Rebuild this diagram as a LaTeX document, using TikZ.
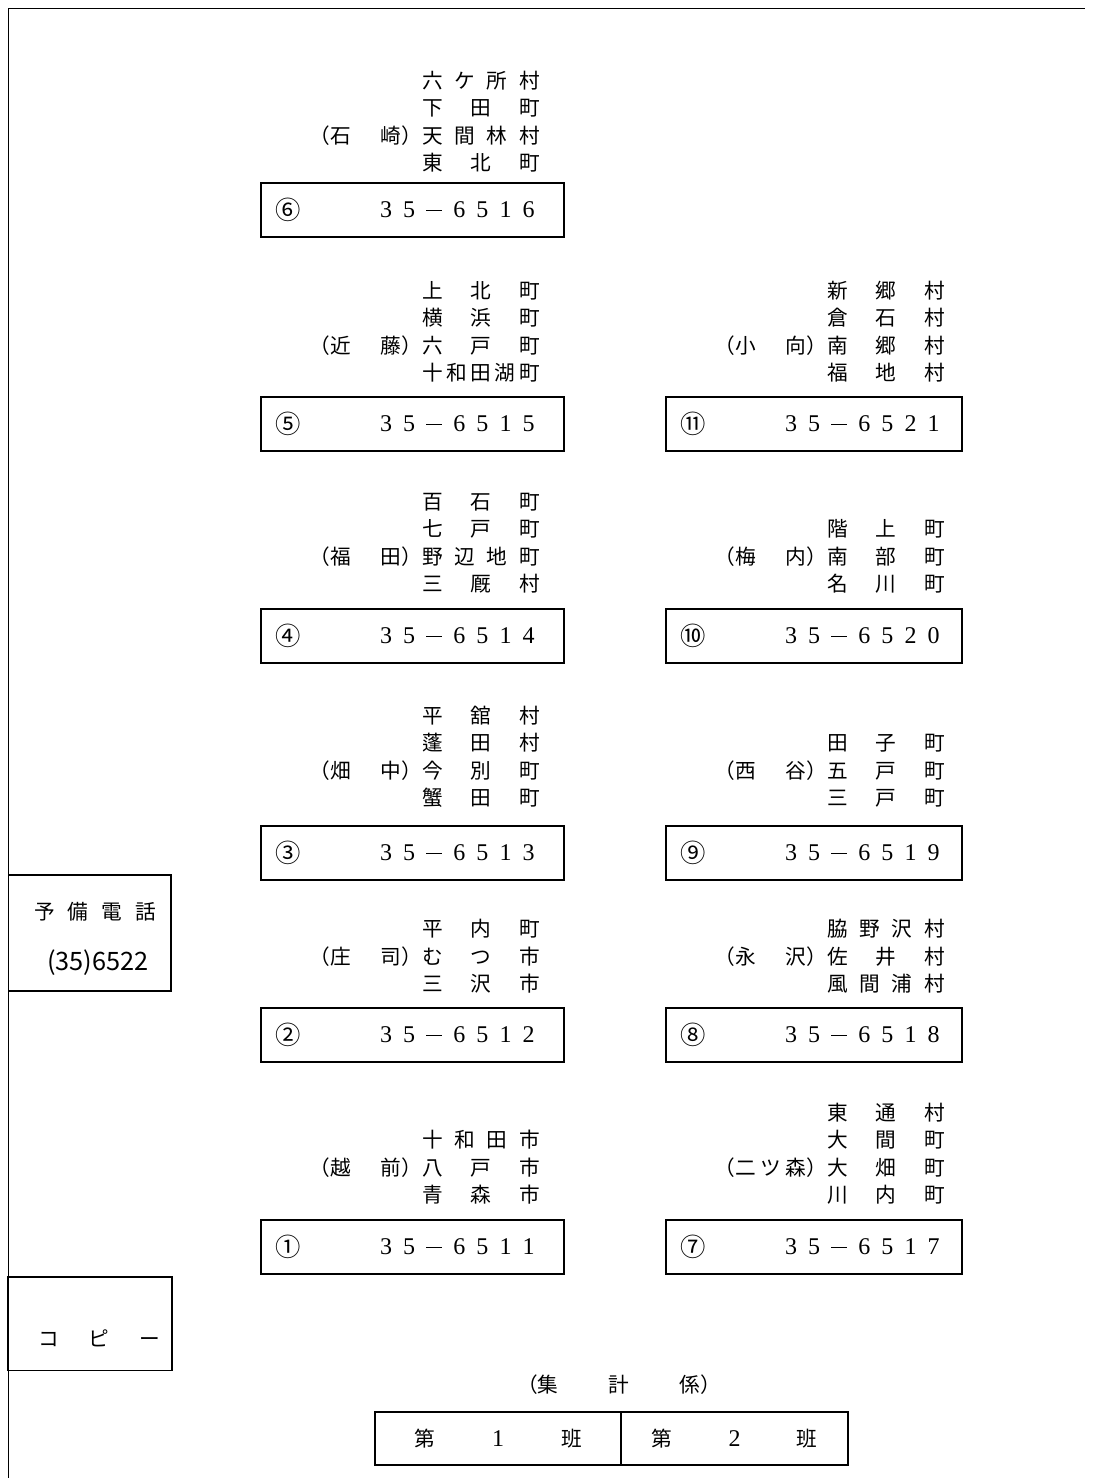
\documentclass[tikz,border=0pt]{standalone}
\usepackage{fontspec}
\usepackage{tikz}
\usetikzlibrary{positioning}
\newfontfamily\jfont{Noto Sans CJK JP}
\newfontfamily\zfont{Liberation Serif}
\newcommand{\ortname}[1]{\makebox[88pt][s]{#1}}
\newcommand{\bezname}[1]{\makebox[84pt][s]{#1}}
\newcommand{\telnr}[4]{\makebox[116pt][s]{3\hfill 5\hfill \rule[5pt]{12pt}{1.1pt}\hfill #1\hfill #2\hfill #3\hfill #4}}

\begin{document}
\begin{tikzpicture}[x=0.75pt, y=-0.75pt, node distance=5pt,
    font=\jfont\fontsize{15.5}{20}\selectfont,
    kasten/.style={draw, line width=1pt, inner sep=0pt, minimum height=40.5pt},
    ort/.style={anchor=east, inner sep=0pt, text height=12pt, text depth=3pt},
    bez/.style={inner sep=0pt, text height=12pt, text depth=3pt},
    kreis/.style={inner sep=0pt, font=\jfont\fontsize{19}{19}\selectfont},
    nummer/.style={anchor=east, inner sep=0pt, font=\zfont\fontsize{18}{18}\selectfont}]
        \useasboundingbox (0,0) rectangle (1093,1478);
        % Rahmen
        \draw[line width=0.6pt] (8,1478) -- (8,8) -- (1085,8);
        % Telefonkaesten
        \foreach \n/\k/\x/\y/\w/\a/\b/\c/\d in {6/⑥/412.5/210/227.25/6/5/1/6,
                5/⑤/412.5/424/227.25/6/5/1/5, 11/⑪/814/424/222/6/5/2/1,
                4/④/412.5/636/227.25/6/5/1/4, 10/⑩/814/636/222/6/5/2/0,
                3/③/412.5/853/227.25/6/5/1/3, 9/⑨/814/853/222/6/5/1/9,
                2/②/412.5/1035/227.25/6/5/1/2, 8/⑧/814/1035/222/6/5/1/8,
                1/①/412.5/1247/227.25/6/5/1/1, 7/⑦/814/1247/222/6/5/1/7}
        {
            \node[kasten, minimum width=\w pt] (b\n) at (\x,\y) {};
            \node[kreis] (k\n) at ([xshift=21pt]b\n.west) {\k};
            \node[nummer] (t\n) at ([xshift=206pt]b\n.west) {\telnr{\a}{\b}{\c}{\d}};
        }
        % Gruppe 6
        \node[ort] (o6c) at (540,137) {\ortname{天\hfill 間\hfill 林\hfill 村}};
        \node[ort, above=of o6c] (o6b) {\ortname{下\hfill 田\hfill 町}};
        \node[ort, above=of o6b] (o6a) {\ortname{六\hfill ケ\hfill 所\hfill 村}};
        \node[ort, below=of o6c] (o6d) {\ortname{東\hfill 北\hfill 町}};
        \node[bez, left=0pt of o6c] (n6) {\bezname{（石\hfill 崎）}};
        % Gruppe 5
        \node[ort] (o5c) at (540,347) {\ortname{六\hfill 戸\hfill 町}};
        \node[ort, above=of o5c] (o5b) {\ortname{横\hfill 浜\hfill 町}};
        \node[ort, above=of o5b] (o5a) {\ortname{上\hfill 北\hfill 町}};
        \node[ort, below=of o5c] (o5d) {\ortname{十\hfill 和\hfill 田\hfill 湖\hfill 町}};
        \node[bez, left=0pt of o5c] (n5) {\bezname{（近\hfill 藤）}};
        % Gruppe 11
        \node[ort] (o11c) at (945,347) {\ortname{南\hfill 郷\hfill 村}};
        \node[ort, above=of o11c] (o11b) {\ortname{倉\hfill 石\hfill 村}};
        \node[ort, above=of o11b] (o11a) {\ortname{新\hfill 郷\hfill 村}};
        \node[ort, below=of o11c] (o11d) {\ortname{福\hfill 地\hfill 村}};
        \node[bez, left=0pt of o11c] (n11) {\bezname{（小\hfill 向）}};
        % Gruppe 4
        \node[ort] (o4c) at (540,558) {\ortname{野\hfill 辺\hfill 地\hfill 町}};
        \node[ort, above=of o4c] (o4b) {\ortname{七\hfill 戸\hfill 町}};
        \node[ort, above=of o4b] (o4a) {\ortname{百\hfill 石\hfill 町}};
        \node[ort, below=of o4c] (o4d) {\ortname{三\hfill 厩\hfill 村}};
        \node[bez, left=0pt of o4c] (n4) {\bezname{（福\hfill 田）}};
        % Gruppe 10
        \node[ort] (o10b) at (945,558) {\ortname{南\hfill 部\hfill 町}};
        \node[ort, above=of o10b] (o10a) {\ortname{階\hfill 上\hfill 町}};
        \node[ort, below=of o10b] (o10c) {\ortname{名\hfill 川\hfill 町}};
        \node[bez, left=0pt of o10b] (n10) {\bezname{（梅\hfill 内）}};
        % Gruppe 3
        \node[ort] (o3c) at (540,772) {\ortname{今\hfill 別\hfill 町}};
        \node[ort, above=of o3c] (o3b) {\ortname{蓬\hfill 田\hfill 村}};
        \node[ort, above=of o3b] (o3a) {\ortname{平\hfill 舘\hfill 村}};
        \node[ort, below=of o3c] (o3d) {\ortname{蟹\hfill 田\hfill 町}};
        \node[bez, left=0pt of o3c] (n3) {\bezname{（畑\hfill 中）}};
        % Gruppe 9
        \node[ort] (o9b) at (945,772) {\ortname{五\hfill 戸\hfill 町}};
        \node[ort, above=of o9b] (o9a) {\ortname{田\hfill 子\hfill 町}};
        \node[ort, below=of o9b] (o9c) {\ortname{三\hfill 戸\hfill 町}};
        \node[bez, left=0pt of o9b] (n9) {\bezname{（西\hfill 谷）}};
        % Gruppe 2
        \node[ort] (o2b) at (540,958) {\ortname{む\hfill つ\hfill 市}};
        \node[ort, above=of o2b] (o2a) {\ortname{平\hfill 内\hfill 町}};
        \node[ort, below=of o2b] (o2c) {\ortname{三\hfill 沢\hfill 市}};
        \node[bez, left=0pt of o2b] (n2) {\bezname{（庄\hfill 司）}};
        % Gruppe 8
        \node[ort] (o8b) at (945,958) {\ortname{佐\hfill 井\hfill 村}};
        \node[ort, above=of o8b] (o8a) {\ortname{脇\hfill 野\hfill 沢\hfill 村}};
        \node[ort, below=of o8b] (o8c) {\ortname{風\hfill 間\hfill 浦\hfill 村}};
        \node[bez, left=0pt of o8b] (n8) {\bezname{（永\hfill 沢）}};
        % Gruppe 1
        \node[ort] (o1b) at (540,1169) {\ortname{八\hfill 戸\hfill 市}};
        \node[ort, above=of o1b] (o1a) {\ortname{十\hfill 和\hfill 田\hfill 市}};
        \node[ort, below=of o1b] (o1c) {\ortname{青\hfill 森\hfill 市}};
        \node[bez, left=0pt of o1b] (n1) {\bezname{（越\hfill 前）}};
        % Gruppe 7
        \node[ort] (o7c) at (945,1169) {\ortname{大\hfill 畑\hfill 町}};
        \node[ort, above=of o7c] (o7b) {\ortname{大\hfill 間\hfill 町}};
        \node[ort, above=of o7b] (o7a) {\ortname{東\hfill 通\hfill 村}};
        \node[ort, below=of o7c] (o7d) {\ortname{川\hfill 内\hfill 町}};
        \node[bez, left=0pt of o7c] (n7) {\bezname{（二\hfill ツ\hfill 森）}};
        % Reserve und Kopie
        \node[kasten, minimum width=122pt, minimum height=87pt] (reserve) at (89.5,933) {};
        \node (reserve1) at (95,912) {\makebox[91.5pt][s]{予\hfill 備\hfill 電\hfill 話}};
        \node[font=\jfont\fontsize{19}{19}\selectfont] (reserve2) at (98,963) {(35)6522};
        \node[kasten, minimum width=123pt, minimum height=70pt] (kopie) at (90,1323.5) {};
        \node (kopie1) at (99,1338) {\makebox[91.5pt][s]{コ\hfill ピ\hfill ー}};
        % Zaehlstelle
        \node (shukei) at (619,1385) {\makebox[153pt][s]{（集\hfill 計\hfill 係）}};
        \node[kasten, minimum width=184.5pt, minimum height=39.75pt] (han1) at (498,1438.5)
            {\makebox[126pt][s]{第\hfill {\zfont\fontsize{18}{18}\selectfont 1}\hfill 班}};
        \node[kasten, minimum width=170.25pt, minimum height=39.75pt] (han2) at (734.5,1438.5)
            {\makebox[124.5pt][s]{第\hfill {\zfont\fontsize{18}{18}\selectfont 2}\hfill 班}};
\end{tikzpicture}
\end{document}
